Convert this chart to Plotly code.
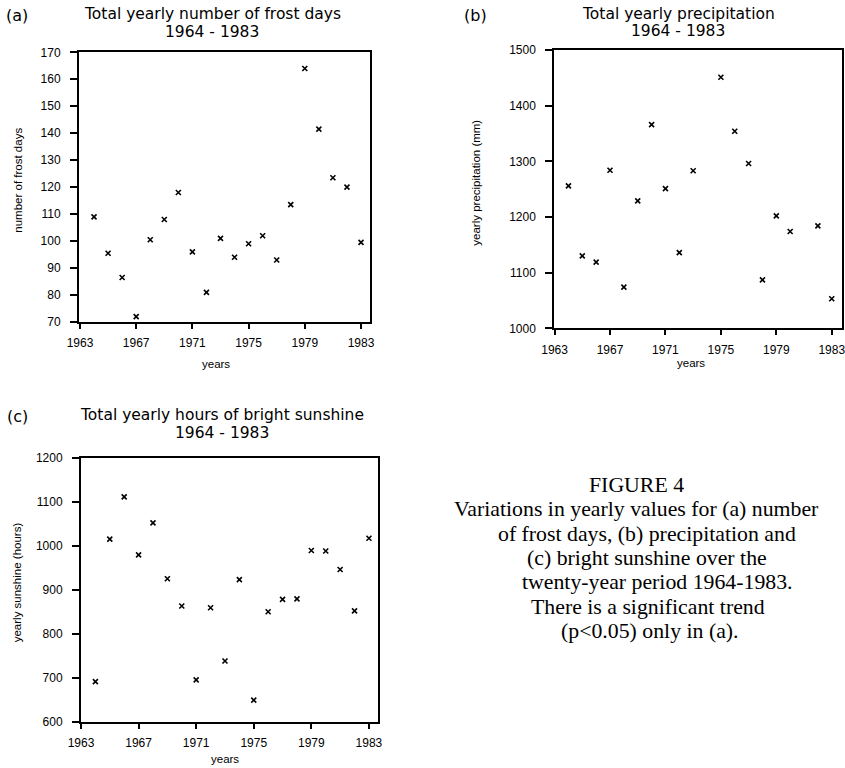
import plotly.graph_objects as go

# ---------------- data ----------------
years_frost = list(range(1964, 1984))
frost_days = [109, 95.5, 86.5, 72, 100.5, 108, 118, 96, 81, 101,
              94, 99, 102, 93, 113.5, 164, 141.5, 123.5, 120, 99.5]

years_precip = [1964, 1965, 1966, 1967, 1968, 1969, 1970, 1971, 1972, 1973,
                1975, 1976, 1977, 1978, 1979, 1980, 1982, 1983]
precip_mm = [1256, 1130, 1119, 1284, 1074, 1229, 1366, 1251, 1136, 1283,
             1451, 1354, 1296, 1087, 1202, 1174, 1184, 1053]

years_sun = list(range(1964, 1984))
sunshine_hours = [691, 1015, 1111, 979, 1052, 925, 863, 695, 859, 738,
                  923, 649, 850, 878, 879, 989, 988, 946, 852, 1017]

x_ticks = [1963, 1967, 1971, 1975, 1979, 1983]
y_ticks_frost = [70, 80, 90, 100, 110, 120, 130, 140, 150, 160, 170]
y_ticks_precip = [1000, 1100, 1200, 1300, 1400, 1500]
y_ticks_sun = [600, 700, 800, 900, 1000, 1100, 1200]

caption_lines = [
    "FIGURE 4",
    "Variations in yearly values for (a) number",
    "of frost days, (b) precipitation and",
    "(c) bright sunshine over the",
    "twenty-year period 1964-1983.",
    "There is a significant trend",
    "(p<0.05) only in (a).",
]

# ---------------- layout helpers ----------------
W, H = 845, 768
def px(x):
    return x / W
def py(y):
    return 1 - y / H

SANS = "Liberation Sans"
TITLE = "DejaVu Sans"
SERIF = "Liberation Serif"

fig = go.Figure()

marker = dict(symbol="x-thin", size=5, color="black",
              line=dict(width=1.6, color="black"))

fig.add_trace(go.Scatter(x=years_frost, y=frost_days, mode="markers",
                         marker=marker, xaxis="x", yaxis="y", showlegend=False))
fig.add_trace(go.Scatter(x=years_precip, y=precip_mm, mode="markers",
                         marker=marker, xaxis="x2", yaxis="y2", showlegend=False))
fig.add_trace(go.Scatter(x=years_sun, y=sunshine_hours, mode="markers",
                         marker=marker, xaxis="x3", yaxis="y3", showlegend=False))

def xaxis(dom, rng, anchor):
    return dict(domain=[px(dom[0]), px(dom[1])], range=rng, anchor=anchor,
                tickvals=x_ticks, ticks="outside", ticklen=5, tickwidth=1.5,
                tickcolor="black", showline=True, linecolor="black",
                linewidth=2, mirror=True, showgrid=False, zeroline=False,
                automargin=False, ticklabeloverflow="allow",
                tickfont=dict(family=SANS, size=12, color="black"),
                ticklabelstandoff=4)

def yaxis(dom, rng, ticks, anchor):
    return dict(domain=[py(dom[1]), py(dom[0])], range=rng, anchor=anchor,
                tickvals=ticks, ticks="outside", ticklen=7, tickwidth=1.5,
                tickcolor="black", showline=True, linecolor="black",
                linewidth=2, mirror=True, showgrid=False, zeroline=False,
                automargin=False, ticklabeloverflow="allow",
                tickfont=dict(family=SANS, size=12, color="black"),
                ticklabelstandoff=7)

fig.update_layout(
    width=W, height=H,
    margin=dict(l=0, r=0, t=0, b=0, autoexpand=False),
    paper_bgcolor="white", plot_bgcolor="white",
    xaxis=xaxis((79, 370), [1962.93, 1983.64], "y"),
    yaxis=yaxis((52.3, 322), [70, 170], y_ticks_frost, "x"),
    xaxis2=xaxis((554.3, 842), [1962.98, 1983.74], "y2"),
    yaxis2=yaxis((50, 328.3), [1000, 1500], y_ticks_precip, "x2"),
    xaxis3=xaxis((81, 378), [1963.0, 1983.63], "y3"),
    yaxis3=yaxis((457.7, 721.7), [600, 1200], y_ticks_sun, "x3"),
)

ann = []
def text(x, y, s, size, family=SANS, angle=0, xanchor="center"):
    ann.append(dict(x=px(x), y=py(y), xref="paper", yref="paper", text=s,
                    showarrow=False, xanchor=xanchor, yanchor="middle",
                    textangle=angle,
                    font=dict(family=family, size=size, color="black")))

# panel labels
text(17, 15, "(a)", 16, family=TITLE)
text(475, 15, "(b)", 16, family=TITLE)
text(17, 416, "(c)", 16, family=TITLE)

# titles
text(212, 14, "Total yearly number of frost days", 15.5, family=TITLE)
text(212, 32, "1964 - 1983", 15.5, family=TITLE)
text(678, 13.5, "Total yearly precipitation", 15.5, family=TITLE)
text(678, 31, "1964 - 1983", 15.5, family=TITLE)
text(222, 415, "Total yearly hours of bright sunshine", 15.5, family=TITLE)
text(222, 433, "1964 - 1983", 15.5, family=TITLE)

# axis titles
text(17.7, 180, "number of frost days", 11.5, angle=-90)
text(475.7, 183, "yearly precipitation (mm)", 11.5, angle=-90)
text(17.3, 582, "yearly sunshine (hours)", 11.5, angle=-90)
text(216, 364, "years", 11.5)
text(691, 363, "years", 11.5)
text(225, 759, "years", 11.5)

# caption
cap_x = [636.7, 636.5, 647, 647, 657, 647.5, 650]
cap_y0, cap_dy = 485, 24.3
for i, (cx, s) in enumerate(zip(cap_x, caption_lines)):
    text(cx, cap_y0 + i * cap_dy, s, 21.8, family=SERIF)

fig.update_layout(annotations=ann)

fig.write_html("out.html",
               config={"displayModeBar": False},
               post_script="document.body.style.margin='0';"
                           "document.body.style.overflow='hidden';")
